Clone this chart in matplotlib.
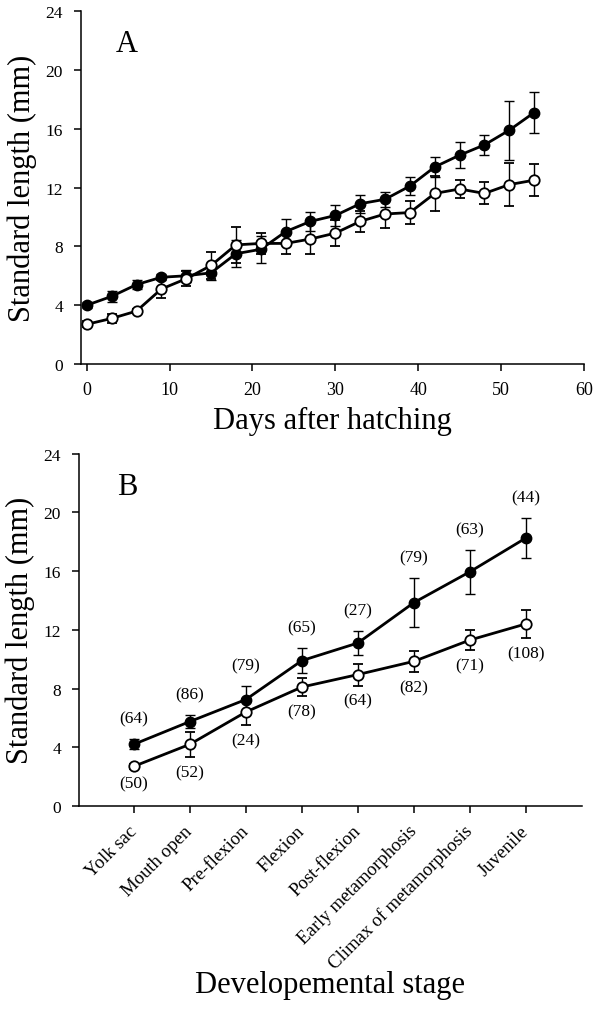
import matplotlib
matplotlib.use("Agg")
import matplotlib.pyplot as plt

plt.rcParams['font.family'] = ['Liberation Serif', 'DejaVu Serif']

# ---- Panel A data ----
days = [0, 3, 6, 9, 12, 15, 18, 21, 24, 27, 30, 33, 36, 39, 42, 45, 48, 51, 54]
a_filled = [4.0, 4.6, 5.4, 5.9, 6.0, 6.2, 7.5, 7.8, 9.0, 9.7, 10.1, 10.9, 11.2, 12.1, 13.4, 14.2, 14.9, 15.9, 17.1]
a_filled_err = [0.2, 0.35, 0.3, 0.2, 0.4, 0.5, 0.9, 0.9, 0.85, 0.67, 0.74, 0.6, 0.5, 0.6, 0.67, 0.9, 0.7, 2.0, 1.4]
a_open = [2.7, 3.1, 3.6, 5.1, 5.8, 6.7, 8.1, 8.2, 8.2, 8.5, 8.9, 9.7, 10.2, 10.3, 11.6, 11.9, 11.6, 12.2, 12.5]
a_open_err = [0.2, 0.3, 0.15, 0.6, 0.5, 0.9, 1.25, 0.7, 0.7, 1.05, 0.9, 0.7, 0.95, 0.8, 1.2, 0.6, 0.75, 1.45, 1.1]

# ---- Panel B data ----
stages = ['Yolk sac', 'Mouth open', 'Pre-flexion', 'Flexion', 'Post-flexion',
          'Early metamorphosis', 'Climax of metamorphosis', 'Juvenile']
b_filled = [4.2, 5.75, 7.25, 9.9, 11.1, 13.85, 15.95, 18.25]
b_filled_err = [0.35, 0.45, 0.9, 0.85, 0.8, 1.65, 1.5, 1.35]
b_open = [2.7, 4.2, 6.4, 8.1, 8.95, 9.85, 11.3, 12.4]
b_open_err = [0.15, 0.85, 0.9, 0.6, 0.75, 0.7, 0.7, 0.95]
n_filled = [64, 86, 79, 65, 27, 79, 63, 44]
n_open = [50, 52, 24, 78, 64, 82, 71, 108]

yticks = [0, 4, 8, 12, 16, 20, 24]
xticks_a = [0, 10, 20, 30, 40, 50, 60]

fig = plt.figure(figsize=(5.93, 10.12), dpi=100)
axA = fig.add_axes([0.1366, 0.6393, 0.848, 0.3488])
axB = fig.add_axes([0.1332, 0.2026, 0.848, 0.3482])

line_kw = dict(color='black', lw=2.0, elinewidth=1.0, capsize=3.3, capthick=1.0)


def style(ax):
    for s in ['top', 'right']:
        ax.spines[s].set_visible(False)
    for s in ['left', 'bottom']:
        ax.spines[s].set_linewidth(1.1)
    ax.set_ylim(0, 24)
    ax.set_yticks(yticks)
    ax.tick_params(axis='y', direction='out', length=5, width=1.1, labelsize=12.5, pad=8)
    ax.tick_params(axis='x', direction='out', length=5, width=1.1)
    ax.set_ylabel('Standard length (mm)', fontsize=22)
    ax.yaxis.set_label_coords(-0.088, 0.5)


# Panel A
axA.errorbar(days, a_filled, yerr=a_filled_err, fmt='-o', ms=7.5, mfc='black', mec='black', zorder=3, **line_kw)
axA.errorbar(days, a_open, yerr=a_open_err, fmt='-o', ms=7.5, mfc='white', mec='black', mew=1.3, zorder=4, **line_kw)
style(axA)
axA.set_xlim(-0.7, 60)
axA.set_xticks(xticks_a)
axA.tick_params(axis='x', labelsize=13, pad=7)
axA.set_xlabel('Days after hatching', fontsize=22)
axA.xaxis.set_label_coords(0.5, -0.12)
axA.text(0.091, 0.907, 'A', transform=axA.transAxes, ha='center', va='center', fontsize=22)

# Panel B
xb = list(range(1, len(stages) + 1))
axB.errorbar(xb, b_filled, yerr=b_filled_err, fmt='-o', ms=7.5, mfc='black', mec='black', zorder=3, **line_kw)
axB.errorbar(xb, b_open, yerr=b_open_err, fmt='-o', ms=7.5, mfc='white', mec='black', mew=1.3, zorder=4, **line_kw)
style(axB)
axB.set_xlim(0.02, 9)
axB.set_xticks(xb)
axB.set_xticklabels(stages, rotation=45, ha='right', va='center', rotation_mode='anchor', fontsize=13.5)
axB.tick_params(axis='x', pad=11)
axB.set_xlabel('Developemental stage', fontsize=22)
axB.xaxis.set_label_coords(0.5, -0.465)
axB.text(0.095, 0.907, 'B', transform=axB.transAxes, ha='center', va='center', fontsize=22)

for x, v, e, n in zip(xb, b_filled, b_filled_err, n_filled):
    axB.annotate(f'({n})', xy=(x, v + e), xytext=(0, 15), textcoords='offset points',
                 ha='center', va='center', fontsize=12.5)
for x, v, e, n in zip(xb, b_open, b_open_err, n_open):
    axB.annotate(f'({n})', xy=(x, v - e), xytext=(0, -11), textcoords='offset points',
                 ha='center', va='center', fontsize=12.5)

fig.savefig('out.png', dpi=100)
